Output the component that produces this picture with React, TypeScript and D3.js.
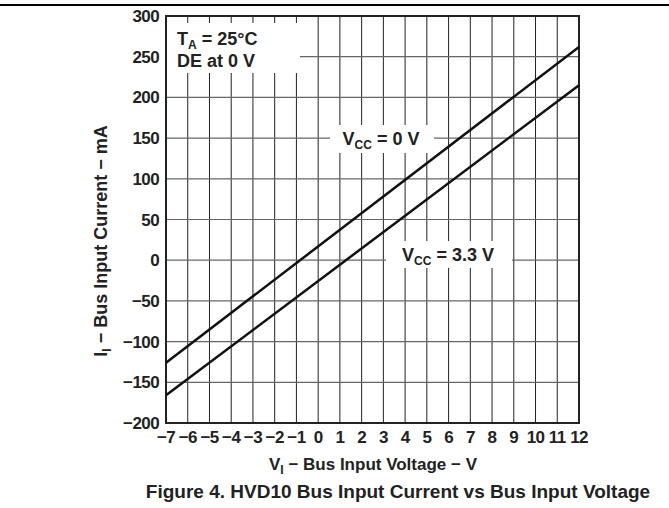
import React, { useRef, useEffect } from "react";
import * as d3 from "d3";

// bus input voltage (V) at the ends of the traces
const voltages = [-7, 12];
// bus input current (mA) for each supply condition
const currentVcc0 = [-126, 262];
const currentVcc33 = [-166, 215];

const xTicks = d3.range(-7, 13);
const yTicks = d3.range(-200, 301, 50);

const W = 669;
const H = 508;
const font = "'Liberation Sans', Arial, sans-serif";
const fs = 17;
const sub = 12;

const App = () => {
  const gRef = useRef<SVGGElement>(null);

  useEffect(() => {
    const g = d3.select(gRef.current);
    g.selectAll("*").remove();

    const left = 166, right = 579, top = 16, bottom = 423;
    const x = d3.scaleLinear().domain([-7, 12]).range([left, right]);
    const y = d3.scaleLinear().domain([-200, 300]).range([bottom, top]);

    // top rule of the page
    g.append("line")
      .attr("x1", 0).attr("x2", W).attr("y1", 5).attr("y2", 5)
      .attr("stroke", "#000").attr("stroke-width", 2);

    // grid
    g.selectAll(".vgrid")
      .data(xTicks.slice(1, -1))
      .join("line")
      .attr("class", "vgrid")
      .attr("x1", (d) => x(d)).attr("x2", (d) => x(d))
      .attr("y1", top).attr("y2", bottom)
      .attr("stroke", "#222").attr("stroke-width", 1);

    g.selectAll(".hgrid")
      .data(yTicks.slice(1, -1))
      .join("line")
      .attr("class", "hgrid")
      .attr("x1", left).attr("x2", right)
      .attr("y1", (d) => y(d)).attr("y2", (d) => y(d))
      .attr("stroke", "#666").attr("stroke-width", 1.2);

    // label boxes cover the grid
    const boxes = [
      [167, 23, 133, 50],
      [330, 125, 104, 28],
      [386, 241, 126, 27],
    ];
    g.selectAll(".box")
      .data(boxes)
      .join("rect")
      .attr("class", "box")
      .attr("x", (d) => d[0]).attr("y", (d) => d[1])
      .attr("width", (d) => d[2]).attr("height", (d) => d[3])
      .attr("fill", "#fff");

    // frame
    g.append("rect")
      .attr("x", left).attr("y", top)
      .attr("width", right - left).attr("height", bottom - top)
      .attr("fill", "none").attr("stroke", "#222").attr("stroke-width", 2);

    // traces
    const line = d3.line<number>()
      .x((d, i) => x(voltages[i]))
      .y((d) => y(d));
    [currentVcc0, currentVcc33].forEach((s) => {
      g.append("path")
        .attr("d", line(s))
        .attr("fill", "none")
        .attr("stroke", "#111")
        .attr("stroke-width", 2.5);
    });

    // tick labels
    g.selectAll(".ylab")
      .data(yTicks)
      .join("text")
      .attr("class", "ylab")
      .attr("x", left - 7)
      .attr("y", (d) => y(d) + 6)
      .attr("text-anchor", "end")
      .text((d) => (d < 0 ? "\u2212" + Math.abs(d) : String(d)));

    g.selectAll(".xlab")
      .data(xTicks)
      .join("text")
      .attr("class", "xlab")
      .attr("x", (d) => x(d))
      .attr("y", bottom + 20)
      .attr("text-anchor", "middle")
      .text((d) => (d < 0 ? "\u2212" + Math.abs(d) : String(d)));

    g.selectAll("text")
      .attr("font-family", font)
      .attr("font-weight", "bold")
      .attr("font-size", fs)
      .attr("letter-spacing", -0.6)
      .attr("fill", "#222");
  }, []);

  const t = { fontFamily: font, fontWeight: "bold", fill: "#222" } as const;

  return (
    <svg
      width={W}
      height={H}
      style={{ position: "absolute", left: 0, top: 0, background: "#fff" }}
    >
      <g ref={gRef} />
      <text x={177} y={45} fontSize={18} style={t}>
        T<tspan fontSize={sub} dy={4}>A</tspan>
        <tspan dy={-4}> = 25°C</tspan>
      </text>
      <text x={177} y={67} fontSize={18} style={t}>DE at 0 V</text>
      <text x={381} y={145} fontSize={18} textAnchor="middle" style={t}>
        V<tspan fontSize={sub} dy={4}>CC</tspan>
        <tspan dy={-4}> = 0 V</tspan>
      </text>
      <text x={448} y={261} fontSize={18} textAnchor="middle" style={t}>
        V<tspan fontSize={sub} dy={4}>CC</tspan>
        <tspan dy={-4}> = 3.3 V</tspan>
      </text>
      <text x={373} y={470} fontSize={fs} textAnchor="middle" style={t}>
        V<tspan fontSize={sub} dy={4}>I</tspan>
        <tspan dy={-4}> − Bus Input Voltage − V</tspan>
      </text>
      <text
        transform="translate(107,241) rotate(-90)"
        fontSize={18}
        textAnchor="middle"
        style={t}
      >
        I<tspan fontSize={sub} dy={4}>I</tspan>
        <tspan dy={-4}> − Bus Input Current − mA</tspan>
      </text>
      <text x={398} y={498} fontSize={19} textAnchor="middle" style={t}>
        Figure 4. HVD10 Bus Input Current vs Bus Input Voltage
      </text>
    </svg>
  );
};

export default App;
